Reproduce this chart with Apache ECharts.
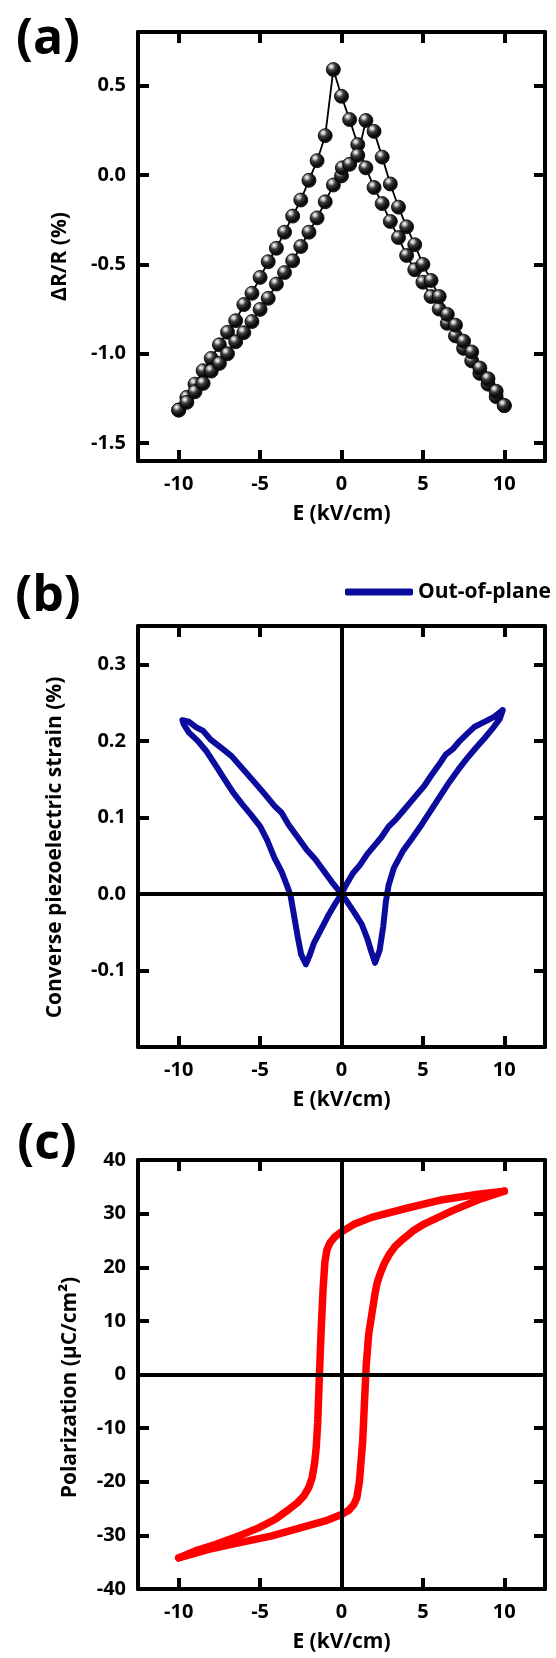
<!DOCTYPE html>
<html><head><meta charset="utf-8">
<script src="https://cdn.jsdelivr.net/npm/echarts@6/dist/echarts.min.js"></script>
<style>html,body{margin:0;padding:0;background:#fff}#c{width:556px;height:1658px}</style>
</head><body><div id="c"></div>
<script>
// ---- tick labels ----
const E_TICKS = [-10, -5, 0, 5, 10];
const A_TICKS = [-1.5, -1.0, -0.5, 0.0, 0.5];
const B_TICKS = [-0.1, 0.0, 0.1, 0.2, 0.3];
const C_TICKS = [-40, -30, -20, -10, 0, 10, 20, 30, 40];

// ---- (a) resistance change, E sweep down (10 -> -10) ----
const A_DOWN = [[10,-1.29],[9.5,-1.24],[9,-1.17],[8.5,-1.11],[8,-1.04],[7.5,-0.97],[7,-0.90],[6.5,-0.83],[6,-0.75],[5.5,-0.68],[5,-0.60],[4.5,-0.53],[4,-0.45],[3.5,-0.35],[3,-0.26],[2.5,-0.16],[2,-0.07],[1.5,0.04],[1,0.17],[0.5,0.31],[0,0.44],[-0.5,0.59],[-1,0.22],[-1.5,0.08],[-2,-0.03],[-2.5,-0.14],[-3,-0.23],[-3.5,-0.32],[-4,-0.41],[-4.5,-0.485],[-5,-0.573],[-5.5,-0.662],[-6,-0.725],[-6.5,-0.815],[-7,-0.88],[-7.5,-0.95],[-8,-1.026],[-8.5,-1.095],[-9,-1.17],[-9.5,-1.244],[-10,-1.315]];
// ---- (a) E sweep up (-10 -> 10) ----
const A_UP = [[-10,-1.315],[-9.5,-1.272],[-9,-1.213],[-8.5,-1.166],[-8,-1.097],[-7.5,-1.054],[-7,-1.0],[-6.5,-0.933],[-6,-0.882],[-5.5,-0.82],[-5,-0.752],[-4.5,-0.69],[-4,-0.61],[-3.5,-0.546],[-3,-0.48],[-2.5,-0.40],[-2,-0.32],[-1.5,-0.24],[-1,-0.15],[-0.5,-0.056],[0,-0.005],[0.05,0.04],[0.5,0.06],[1,0.11],[1.5,0.305],[2,0.244],[2.5,0.10],[3,-0.05],[3.5,-0.18],[4,-0.29],[4.5,-0.39],[5,-0.50],[5.5,-0.59],[6,-0.68],[6.5,-0.78],[7,-0.84],[7.5,-0.93],[8,-0.99],[8.5,-1.08],[9,-1.14],[9.5,-1.21],[10,-1.29]];

// ---- (b) converse piezoelectric strain loop ----
const B_LOOP = [[9.90,0.240],[9.35,0.231],[8.81,0.225],[8.15,0.218],[7.71,0.209],[7.27,0.200],[6.83,0.189],[6.40,0.182],[5.96,0.168],[5.52,0.155],[5.08,0.141],[4.64,0.130],[4.20,0.119],[3.77,0.108],[3.33,0.097],[2.89,0.088],[2.45,0.074],[2.02,0.063],[1.58,0.052],[1.14,0.038],[0.70,0.027],[0.26,0.011],[0,0],
[-0.39,-0.013],[-0.83,-0.029],[-1.27,-0.047],[-1.71,-0.065],[-1.97,-0.081],[-2.19,-0.092],
[-2.48,-0.079],[-2.69,-0.056],[-2.91,-0.029],[-3.13,-0.002],[-3.35,0.011],[-3.68,0.029],[-4.12,0.047],[-4.56,0.070],[-4.99,0.088],[-5.54,0.103],[-6.09,0.117],[-6.64,0.132],[-7.19,0.150],[-7.73,0.168],[-8.28,0.186],[-8.83,0.200],[-9.38,0.211],[-9.70,0.222],[-9.77,0.227],
[-9.38,0.225],[-8.94,0.218],[-8.50,0.213],[-8.06,0.202],[-7.40,0.191],[-6.75,0.180],[-6.09,0.164],[-5.43,0.148],[-4.78,0.132],[-4.12,0.115],[-3.68,0.106],[-3.24,0.090],[-2.69,0.074],[-2.15,0.058],[-1.60,0.045],[-1.05,0.029],[-0.50,0.013],[0,0],
[0.37,-0.011],[0.81,-0.025],[1.25,-0.040],[1.58,-0.058],[1.84,-0.076],[2.06,-0.090],
[2.34,-0.074],[2.56,-0.043],[2.72,-0.011],[2.89,0.011],[3.22,0.034],[3.77,0.056],[4.32,0.072],[4.97,0.092],[5.52,0.110],[6.07,0.128],[6.62,0.146],[7.16,0.162],[7.71,0.177],[8.26,0.191],[8.81,0.204],[9.35,0.218],[9.73,0.229],[9.90,0.240]];

// ---- (c) polarization loop ----
const C_UPPER = [[10,34.2],[8.4,33.6],[6.2,32.6],[4.0,31.0],[1.85,29.3],[0.76,28.0],[0,26.6],[-0.4,25.7],[-0.7,24.6],[-0.9,23.2],[-1.02,21.0],[-1.13,16.0],[-1.24,8.9],[-1.35,0.4],[-1.46,-8.9],[-1.55,-13.5],[-1.65,-16.5],[-1.8,-19.2],[-2.0,-21.0],[-2.3,-22.6],[-2.7,-23.9],[-3.25,-25.2],[-4.07,-27.0],[-5.09,-28.6],[-6.32,-30.1],[-7.75,-31.7],[-8.98,-32.9],[-10,-34.2]];
const C_LOWER = [[-10,-34.2],[-8.16,-32.6],[-6.32,-31.4],[-4.28,-30.1],[-2.64,-28.7],[-1,-27.3],[0,-26.1],[0.45,-25.3],[0.75,-24.3],[0.94,-23.0],[1.1,-20],[1.3,-12.5],[1.41,-5.3],[1.52,1.8],[1.67,7.5],[1.85,11.0],[2.07,15.3],[2.2,17.2],[2.39,18.9],[2.6,20.5],[2.93,22.4],[3.3,23.9],[3.8,25.3],[4.4,26.8],[5.1,28.1],[6.85,30.6],[8.6,32.8],[10,34.2]];

const X_RANGE = [-12.5, 12.5];
const Y_RANGES = [[-1.6, 0.8], [-0.2, 0.35], [-40, 40]];
const Y_INTERVAL = [null, 0.1, 10];   // (a) uses the automatic 0.5 step

const FONT = '"Open Sans", Lato, "DejaVu Sans", sans-serif';
const GRIDS = [
  {left: 138, top: 32, width: 407, height: 429},
  {left: 138, top: 626, width: 407, height: 421},
  {left: 138, top: 1160, width: 407, height: 429}
];
const Y_NAMES = ['ΔR/R (%)', 'Converse piezoelectric strain (%)', 'Polarization (µC/cm²)'];
const Y_TICKS = [A_TICKS, B_TICKS, C_TICKS];
const Y_FMT = [v => v.toFixed(1), v => v.toFixed(1), v => String(v)];
const Y_GAP = [67, 72, 57];
const Y_SHIFT_PAD = [20, 22, 26];

const FRAME_W = 4, TICK_LEN = 11;
const lineBlack = {color: '#000', width: FRAME_W};
const labelStyle = {color: '#000', fontFamily: FONT, fontWeight: 'bold', fontSize: 20};

const xAxis = [], yAxis = [];
GRIDS.forEach((g, i) => {
  xAxis.push({
    type: 'value', gridIndex: i, position: 'bottom', min: X_RANGE[0], max: X_RANGE[1],
    axisLine: {show: true, onZero: false, lineStyle: lineBlack}, splitLine: {show: false},
    axisTick: {show: true, inside: true, length: TICK_LEN, lineStyle: lineBlack},
    axisLabel: Object.assign({show: true, margin: 13, customValues: E_TICKS, formatter: v => String(v)}, labelStyle),
    name: 'E (kV/cm)', nameLocation: 'middle', nameGap: 43, nameMoveOverlap: false,
    nameTextStyle: Object.assign({}, labelStyle, {fontSize: 21})
  });
  xAxis.push({
    type: 'value', gridIndex: i, position: 'top', min: X_RANGE[0], max: X_RANGE[1],
    axisLine: {show: true, onZero: false, lineStyle: lineBlack}, splitLine: {show: false},
    axisTick: {show: true, inside: true, length: TICK_LEN, lineStyle: lineBlack}, axisLabel: {show: false}
  });
  const yl = {
    type: 'value', gridIndex: i, position: 'left', min: Y_RANGES[i][0], max: Y_RANGES[i][1],
    axisLine: {show: true, onZero: false, lineStyle: lineBlack}, splitLine: {show: false},
    axisTick: {show: true, inside: true, length: TICK_LEN, lineStyle: lineBlack},
    axisLabel: Object.assign({show: true, margin: 12, customValues: Y_TICKS[i], formatter: Y_FMT[i]}, labelStyle),
    name: Y_NAMES[i], nameLocation: 'middle', nameRotate: 90, nameGap: Y_GAP[i], nameMoveOverlap: false,
    nameTextStyle: Object.assign({}, labelStyle, {fontSize: 21, padding: [0, Y_SHIFT_PAD[i], 0, 0]})
  };
  const yr = {
    type: 'value', gridIndex: i, position: 'right', min: Y_RANGES[i][0], max: Y_RANGES[i][1],
    axisLine: {show: true, onZero: false, lineStyle: lineBlack}, splitLine: {show: false},
    axisTick: {show: true, inside: true, length: TICK_LEN, lineStyle: lineBlack}, axisLabel: {show: false}
  };
  if (Y_INTERVAL[i] != null) { yl.interval = Y_INTERVAL[i]; yr.interval = Y_INTERVAL[i]; }
  yAxis.push(yl, yr);
});

const zeroLines = {
  silent: true, symbol: ['none', 'none'], animation: false, label: {show: false},
  lineStyle: {color: '#000', width: FRAME_W, type: 'solid'},
  emphasis: {disabled: true},
  data: [{xAxis: 0}, {yAxis: 0}]
};

const ball = new echarts.graphic.RadialGradient(0.36, 0.3, 0.72, [
  {offset: 0, color: '#ffffff'}, {offset: 0.14, color: '#c8c8c8'}, {offset: 0.38, color: '#3a3a3a'},
  {offset: 0.78, color: '#050505'}, {offset: 1, color: '#2a2a2a'}
]);
function ballSeries(data) {
  return {
    type: 'line', xAxisIndex: 0, yAxisIndex: 0, data: data, showSymbol: true,
    symbol: 'circle', symbolSize: 14,
    itemStyle: {color: ball, borderColor: '#000', borderWidth: 0.8},
    lineStyle: {color: '#000', width: 1.8}, emphasis: {disabled: true}, z: 3
  };
}

const series = [
  ballSeries(A_DOWN),
  ballSeries(A_UP),
  {
    name: 'Out-of-plane', type: 'line', xAxisIndex: 2, yAxisIndex: 2, data: B_LOOP,
    symbol: 'none', showSymbol: false, smooth: false,
    itemStyle: {color: '#0b0b9e'},
    lineStyle: {color: '#0b0b9e', width: 6, cap: 'round', join: 'round'},
    emphasis: {disabled: true}, markLine: zeroLines, z: 3
  },
  {
    type: 'line', xAxisIndex: 4, yAxisIndex: 4, data: C_UPPER,
    symbol: 'none', showSymbol: false,
    lineStyle: {color: '#ff0000', width: 7.5, cap: 'round', join: 'round'},
    emphasis: {disabled: true}, markLine: zeroLines, z: 3
  },
  {
    type: 'line', xAxisIndex: 4, yAxisIndex: 4, data: C_LOWER,
    symbol: 'none', showSymbol: false,
    lineStyle: {color: '#ff0000', width: 7.5, cap: 'round', join: 'round'},
    emphasis: {disabled: true}, z: 3
  }
];

const option = {
  animation: false,
  backgroundColor: '#fff',
  grid: GRIDS.map(g => Object.assign({show: false, containLabel: false}, g)),
  xAxis: xAxis,
  yAxis: yAxis,
  legend: {
    data: ['Out-of-plane'], left: 345, top: 580, padding: 0,
    icon: 'roundRect', itemWidth: 68, itemHeight: 7, itemGap: 5,
    textStyle: {color: '#000', fontFamily: FONT, fontWeight: 'bold', fontSize: 21, lineHeight: 24},
    selectedMode: false
  },
  graphic: [
    {type: 'text', style: {text: '(a)', x: 48, y: 40, align: 'center', verticalAlign: 'middle', font: 'bold 50px ' + FONT, fill: '#000'}},
    {type: 'text', style: {text: '(b)', x: 48, y: 597, align: 'center', verticalAlign: 'middle', font: 'bold 50px ' + FONT, fill: '#000'}},
    {type: 'text', style: {text: '(c)', x: 47, y: 1145, align: 'center', verticalAlign: 'middle', font: 'bold 50px ' + FONT, fill: '#000'}}
  ],
  series: series
};
const chart = echarts.init(document.getElementById('c'), null, {renderer: 'canvas'});
chart.setOption(option);
</script></body></html>
